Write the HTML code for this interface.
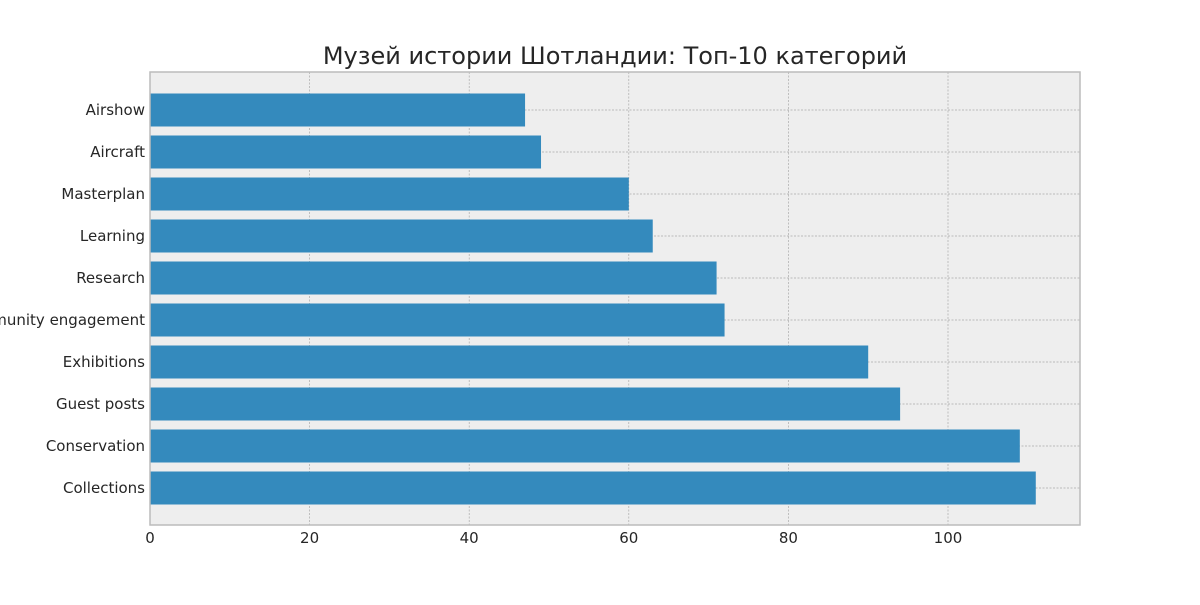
<!DOCTYPE html>
<html><head><meta charset="utf-8"><style>
body{margin:0;background:#fff;}
svg text{font-family:"DejaVu Sans","Liberation Sans",sans-serif;fill:#262626;}
</style></head><body>
<svg width="1200" height="600">
<rect x="0" y="0" width="1200" height="600" fill="#fff"/>
<text x="615" y="64" text-anchor="middle" font-size="24">Музей истории Шотландии: Топ-10 категорий</text>
<rect x="150" y="72" width="930" height="453" fill="#eeeeee"/>
<g id="grid"></g>
<g id="bars"></g>
<g id="ticks"></g>
<rect x="150" y="72" width="930" height="453" fill="none" stroke="#bcbcbc" stroke-width="1.5"/>
</svg>
<script>
const categories=["Airshow","Aircraft","Masterplan","Learning","Research","Community engagement","Exhibitions","Guest posts","Conservation","Collections"];
const values=[47,49,60,63,71,72,90,94,109,111];
const xTicks=[0,20,40,60,80,100];
const NS="http://www.w3.org/2000/svg";
const x0=150,pxPerUnit=7.98;
const xs=v=>x0+v*pxPerUnit;
const ys=i=>110+42*i;
function mk(tag,attrs,parent){const e=document.createElementNS(NS,tag);for(const k in attrs)e.setAttribute(k,attrs[k]);parent.appendChild(e);return e;}
const grid=document.getElementById('grid'),bars=document.getElementById('bars'),ticks=document.getElementById('ticks');
xTicks.forEach(t=>{
  const l=mk('line',{x1:xs(t),x2:xs(t),y1:72,y2:525,stroke:'#aaaaaa','stroke-width':0.7,'stroke-dasharray':'2,1.5'},grid);
  
  
  const tx=mk('text',{x:xs(t),y:543,'text-anchor':'middle','font-size':15},ticks);
  tx.textContent=t;
  
  
});
categories.forEach((c,i)=>{
  const l=mk('line',{x1:150,x2:1080,y1:ys(i),y2:ys(i),stroke:'#aaaaaa','stroke-width':0.7,'stroke-dasharray':'2,1.5'},grid);
  
  
  const r=mk('rect',{x:xs(0),y:ys(i)-16.5,width:xs(values[i])-xs(0),height:33,fill:'#348abd'},bars);
  
  
  const tx=mk('text',{x:145,y:ys(i)+5,'text-anchor':'end','font-size':15},ticks);
  tx.textContent=c;
  
  
});
</script>
</body></html>
